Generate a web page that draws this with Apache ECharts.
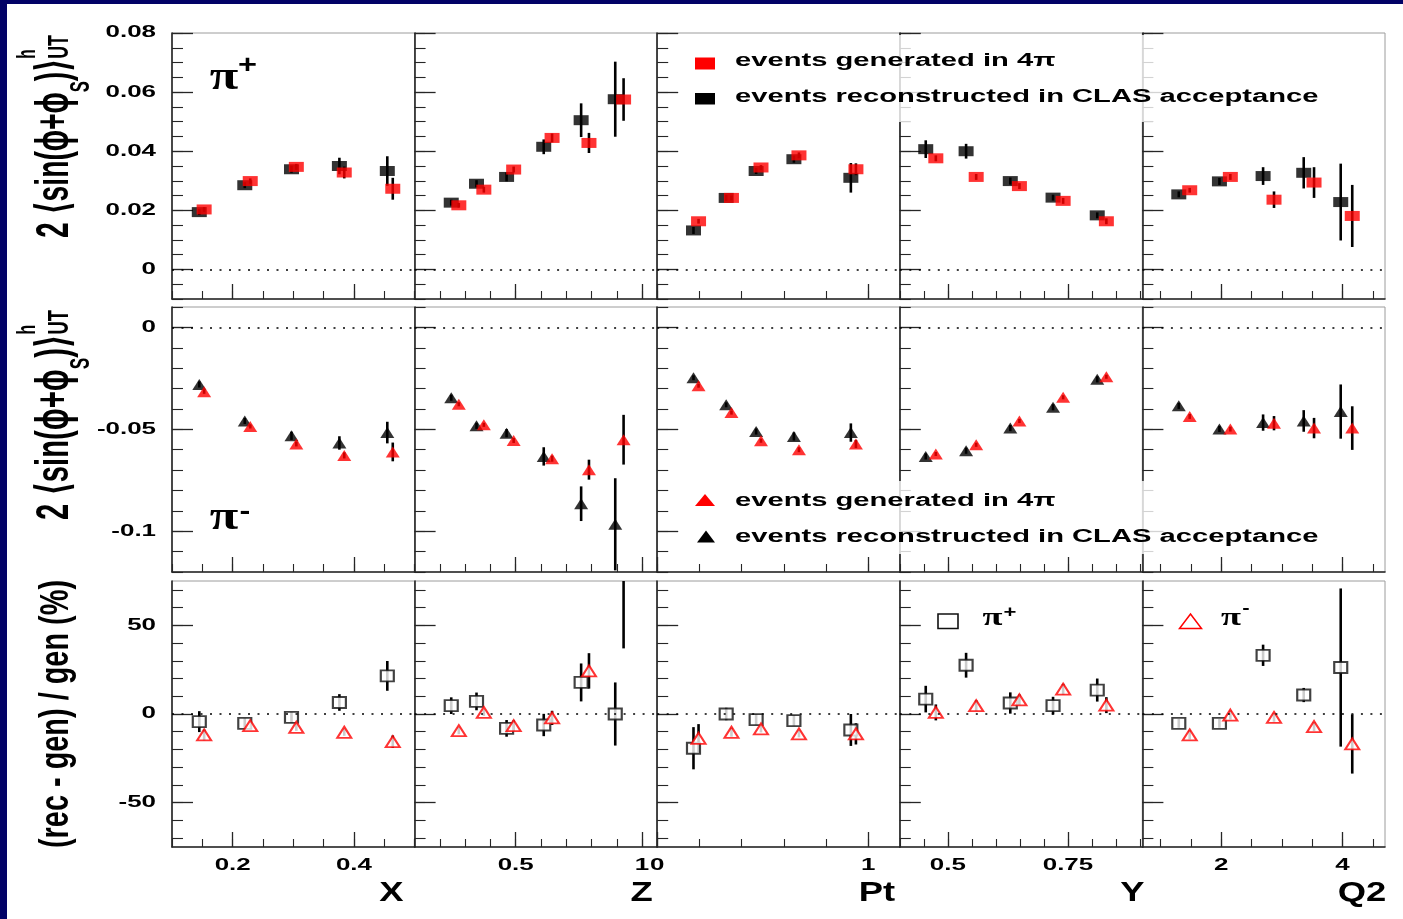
<!DOCTYPE html>
<html>
<head>
<meta charset="utf-8">
<title>Asymmetry: events generated in 4π vs reconstructed in CLAS acceptance</title>
<script src="https://cdn.jsdelivr.net/npm/echarts@6.0.0/dist/echarts.min.js"></script>
<style>
html,body{margin:0;padding:0;background:#fff;}
#chart{width:1403px;height:919px;}
</style>
</head>
<body>
<div id="chart"></div>
<script>
// ================= DATA =================
const panelVars = ['X', 'Z', 'Pt', 'Y', 'Q2'];
const xTickLabels = [['0.2', '0.4'], ['0.5', '1'], ['0', '1'], ['0.5', '0.75'], ['2', '4']];
const yTickLabels = [['0', '0.02', '0.04', '0.06', '0.08'], ['-0.1', '-0.05', '0'], ['-50', '0', '50']];

// bin positions (reconstructed = black, generated = red, drawn slightly shifted)
const xRec = [
  [0.145, 0.220, 0.297, 0.376, 0.455],
  [0.245, 0.345, 0.464, 0.611, 0.759, 0.894],
  [0.172, 0.327, 0.469, 0.648, 0.918],
  [0.454, 0.538, 0.630, 0.719, 0.811],
  [1.30, 1.97, 2.69, 3.36, 3.97]
];
const xGen = [
  [0.153, 0.229, 0.305, 0.384, 0.464],
  [0.275, 0.374, 0.492, 0.644, 0.790, 0.927],
  [0.196, 0.352, 0.492, 0.672, 0.942],
  [0.475, 0.559, 0.649, 0.740, 0.830],
  [1.48, 2.15, 2.87, 3.53, 4.16]
];

// pi+ : 2<sin(phi+phiS)>
const piPlusRec = [
  [0.0194, 0.0285, 0.0339, 0.0350, 0.0333],
  [0.0226, 0.0290, 0.0313, 0.0415, 0.0505, 0.0576],
  [0.0132, 0.0242, 0.0333, 0.0373, 0.0310],
  [0.0407, 0.0400, 0.0299, 0.0243, 0.0183],
  [0.0254, 0.0298, 0.0316, 0.0327, 0.0228]
];
const piPlusRecErr = [
  [0.0010, 0.0010, 0.0012, 0.0028, 0.0050],
  [0.0010, 0.0012, 0.0015, 0.0025, 0.0057, 0.0127],
  [0.0012, 0.0010, 0.0010, 0.0012, 0.0050],
  [0.0030, 0.0025, 0.0012, 0.0010, 0.0010],
  [0.0010, 0.0012, 0.0030, 0.0053, 0.0130]
];
const piPlusGen = [
  [0.0203, 0.0299, 0.0347, 0.0328, 0.0273],
  [0.0217, 0.0270, 0.0338, 0.0445, 0.0428, 0.0575],
  [0.0163, 0.0242, 0.0345, 0.0386, 0.0339],
  [0.0376, 0.0313, 0.0282, 0.0232, 0.0163],
  [0.0268, 0.0313, 0.0236, 0.0294, 0.0181]
];
const piPlusGenErr = [
  [0.0008, 0.0009, 0.0010, 0.0020, 0.0037],
  [0.0008, 0.0010, 0.0010, 0.0015, 0.0034, 0.0072],
  [0.0008, 0.0008, 0.0008, 0.0010, 0.0020],
  [0.0010, 0.0010, 0.0010, 0.0010, 0.0010],
  [0.0008, 0.0010, 0.0028, 0.0052, 0.0105]
];

// pi- : 2<sin(phi+phiS)>
const piMinusRec = [
  [-0.0280, -0.0459, -0.0532, -0.0567, -0.0516],
  [-0.0345, -0.0483, -0.0519, -0.0633, -0.0865, -0.0966],
  [-0.0247, -0.0380, -0.0511, -0.0535, -0.0516],
  [-0.0633, -0.0605, -0.0494, -0.0392, -0.0255],
  [-0.0385, -0.0498, -0.0467, -0.0459, -0.0413]
];
const piMinusRecErr = [
  [0.0015, 0.0015, 0.0020, 0.0033, 0.0053],
  [0.0015, 0.0015, 0.0020, 0.0045, 0.0085, 0.0226],
  [0.0012, 0.0012, 0.0015, 0.0020, 0.0045],
  [0.0015, 0.0015, 0.0015, 0.0015, 0.0015],
  [0.0015, 0.0015, 0.0040, 0.0053, 0.0133]
];
const piMinusGen = [
  [-0.0316, -0.0486, -0.0572, -0.0628, -0.0611],
  [-0.0377, -0.0478, -0.0555, -0.0644, -0.0698, -0.0551],
  [-0.0286, -0.0418, -0.0556, -0.0600, -0.0572],
  [-0.0621, -0.0576, -0.0459, -0.0343, -0.0242],
  [-0.0437, -0.0499, -0.0470, -0.0494, -0.0494]
];
const piMinusGenErr = [
  [0.0010, 0.0010, 0.0012, 0.0015, 0.0046],
  [0.0010, 0.0010, 0.0012, 0.0015, 0.0049, 0.0122],
  [0.0010, 0.0010, 0.0010, 0.0012, 0.0020],
  [0.0010, 0.0010, 0.0010, 0.0010, 0.0010],
  [0.0012, 0.0012, 0.0035, 0.0050, 0.0107]
];

// (rec - gen) / gen  in %
const diffPiPlus = [
  [-4.3, -5.3, -1.9, 6.5, 21.5],
  [4.7, 7.1, -8.1, -6.2, 17.8, 0.0],
  [-19.3, 0.0, -3.2, -3.7, -9.0],
  [8.4, 27.5, 6.2, 4.7, 13.5],
  [-5.3, -5.3, 33.1, 10.7, 26.2]
];
const diffPiPlusErr = [
  [5.9, 3.0, 3.0, 4.7, 8.4],
  [4.7, 5.0, 4.7, 6.3, 10.7, 17.8],
  [11.9, 3.5, 3.0, 3.0, 9.0],
  [7.5, 7.0, 6.0, 5.0, 6.5],
  [2.5, 2.5, 6.0, 4.0, 44.6]
];
const diffPiMinus = [
  [-11.8, -6.6, -7.5, -10.3, -15.6],
  [-9.4, 0.9, -6.6, -2.2, 24.3, 78.0],
  [-13.7, -10.3, -8.4, -11.2, -11.2],
  [0.9, 4.7, 8.0, 14.0, 5.0],
  [-11.8, -0.6, -1.9, -7.1, -16.9]
];
const diffPiMinusErr = [
  [3.0, 2.0, 2.0, 2.0, 3.5],
  [2.0, 2.0, 3.0, 4.0, 10.0, 41.0],
  [8.0, 2.5, 2.0, 2.0, 6.0],
  [4.5, 3.0, 3.0, 3.0, 4.5],
  [2.5, 2.5, 2.5, 2.5, 16.7]
];

// ================= LAYOUT =================
const SANS = '"Liberation Sans", "DejaVu Sans", Arial, sans-serif';
const SERIF = '"Liberation Serif", "DejaVu Serif", serif';
const SX = 1.62;               // horizontal stretch of the original figure's text
const COL0 = 172, COLW = 242.6;
const rowTop = [33, 307, 581], rowH = [266, 265, 266];
const xRange = [[0.1, 0.5, 0.05], [0.1, 1.06, 0.1], [0, 1.15, 0.2], [0.4, 0.905, 0.05], [0.7, 4.7, 0.5]];
const yRange = [[-0.01, 0.08, 0.005], [-0.12, 0.01, 0.01], [-75, 75, 10]];
const AX = '#262626';

function steps(a, b, s) {
  const out = [];
  const n0 = Math.ceil(a / s - 1e-9), n1 = Math.floor(b / s + 1e-9);
  for (let n = n0; n <= n1; n++) out.push(+(n * s).toFixed(6));
  return out;
}

const grids = [], xAxes = [], yAxes = [], series = [];

function axisPair(list, dim, g, min, max, majors, minors, majLen, minLen) {
  const pos = dim === 'x' ? 'bottom' : 'left';
  list.push({
    type: 'value', gridIndex: g, position: pos, min: min, max: max,
    axisLine: { show: true, onZero: false, lineStyle: { color: AX, width: 1.6 } },
    axisTick: { show: true, inside: true, length: majLen, customValues: majors, lineStyle: { color: AX, width: 1.3 } },
    axisLabel: { show: false }, splitLine: { show: false }, minorTick: { show: false }
  });
  list.push({
    type: 'value', gridIndex: g, position: pos, min: min, max: max,
    axisLine: { show: false, onZero: false },
    axisTick: { show: true, inside: true, length: minLen, customValues: minors, lineStyle: { color: AX, width: 1.1 } },
    axisLabel: { show: false }, splitLine: { show: false }, minorTick: { show: false }
  });
}

function errSeries(g, name, xs, ys, es) {
  return {
    type: 'custom', name: name + ' error', xAxisIndex: 2 * g, yAxisIndex: 2 * g,
    clip: true, silent: true, z: 2,
    data: xs.map((x, i) => [x, ys[i], es[i]]),
    renderItem: function (params, api) {
      const x = api.value(0), y = api.value(1), e = api.value(2);
      const p1 = api.coord([x, y - e]), p2 = api.coord([x, y + e]);
      return { type: 'line', shape: { x1: p1[0], y1: p1[1], x2: p2[0], y2: p2[1] },
               style: { stroke: '#000', lineWidth: 2.6 } };
    }
  };
}

function ptSeries(g, name, xs, ys, sym, z, zeroLine) {
  const s = {
    type: 'scatter', name: name, xAxisIndex: 2 * g, yAxisIndex: 2 * g,
    data: xs.map((x, i) => [x, ys[i]]),
    symbol: sym.symbol, symbolSize: sym.size, itemStyle: sym.style,
    clip: true, silent: true, z: z
  };
  if (zeroLine) {
    s.markLine = {
      silent: true, symbol: ['none', 'none'], animation: false,
      label: { show: false },
      lineStyle: { color: '#000', width: 1.5, type: [2, 7.5] },
      emphasis: { disabled: true },
      data: [{ yAxis: 0 }]
    };
  }
  return s;
}

const rowDefs = [
  { rec: piPlusRec, recErr: piPlusRecErr, gen: piPlusGen, genErr: piPlusGenErr,
    recName: 'π+ events reconstructed in CLAS acceptance', genName: 'π+ events generated in 4π',
    recSym: { symbol: 'rect', size: [15, 10], style: { color: '#000' } },
    genSym: { symbol: 'rect', size: [15, 10], style: { color: '#ff0000' } } },
  { rec: piMinusRec, recErr: piMinusRecErr, gen: piMinusGen, genErr: piMinusGenErr,
    recName: 'π- events reconstructed in CLAS acceptance', genName: 'π- events generated in 4π',
    recSym: { symbol: 'triangle', size: [14, 11], style: { color: '#000' } },
    genSym: { symbol: 'triangle', size: [14, 11], style: { color: '#ff0000' } } },
  { rec: diffPiPlus, recErr: diffPiPlusErr, gen: diffPiMinus, genErr: diffPiMinusErr,
    recName: 'π+ (rec - gen) / gen', genName: 'π- (rec - gen) / gen',
    recSym: { symbol: 'rect', size: [13, 11], style: { color: '#fff', borderColor: '#111', borderWidth: 2 } },
    genSym: { symbol: 'triangle', size: [14, 11], style: { color: '#fff', borderColor: '#ff0000', borderWidth: 2 } } }
];

for (let r = 0; r < 3; r++) {
  for (let c = 0; c < 5; c++) {
    const g = r * 5 + c;
    grids.push({ left: COL0 + c * COLW, top: rowTop[r], width: COLW, height: rowH[r],
                 show: true, borderColor: '#9c9c9c', borderWidth: 1, containLabel: false });
    const xr = xRange[c], yr = yRange[r];
    const xMaj = xTickLabels[c].map(Number), yMaj = yTickLabels[r].map(Number);
    axisPair(xAxes, 'x', g, xr[0], xr[1], xMaj, steps(xr[0], xr[1], xr[2]), 15, 8);
    axisPair(yAxes, 'y', g, yr[0], yr[1], yMaj, steps(yr[0], yr[1], yr[2]), 21, 11);
    const d = rowDefs[r];
    const tag = ' vs ' + panelVars[c];
    series.push(errSeries(g, d.recName + tag, xRec[c], d.rec[c], d.recErr[c]));
    series.push(errSeries(g, d.genName + tag, xGen[c], d.gen[c], d.genErr[c]));
    series.push(ptSeries(g, d.recName + tag, xRec[c], d.rec[c], d.recSym, 3, true));
    series.push(ptSeries(g, d.genName + tag, xGen[c], d.gen[c], d.genSym, 4, false));

    // tick labels (stretched like the original figure)
    if (r === 2) {
      const labs = xTickLabels[c];
      series.push({
        type: 'custom', name: panelVars[c] + ' tick labels', xAxisIndex: 2 * g, yAxisIndex: 2 * g,
        clip: false, silent: true, z: 5,
        data: labs.map(l => [Number(l), yr[0]]),
        renderItem: function (params, api) {
          const p = api.coord([api.value(0), api.value(1)]);
          return { type: 'text', x: p[0], y: p[1] + 19, scaleX: SX,
            style: { text: labs[params.dataIndex], font: 'bold 16px ' + SANS, fill: '#000',
                     align: 'center', verticalAlign: 'middle', textAlign: 'center', textVerticalAlign: 'middle' } };
        }
      });
    }
    if (c === 0) {
      const labs = yTickLabels[r];
      series.push({
        type: 'custom', name: 'row ' + r + ' tick labels', xAxisIndex: 2 * g, yAxisIndex: 2 * g,
        clip: false, silent: true, z: 5,
        data: labs.map(l => [xr[0], Number(l)]),
        renderItem: function (params, api) {
          const p = api.coord([api.value(0), api.value(1)]);
          return { type: 'text', x: p[0] - 16, y: p[1], scaleX: SX,
            style: { text: labs[params.dataIndex], font: 'bold 16px ' + SANS, fill: '#000',
                     align: 'right', verticalAlign: 'middle', textAlign: 'right', textVerticalAlign: 'middle' } };
        }
      });
    }
  }
}

// ---------- texts: titles, legends ----------
const mctx = document.createElement('canvas').getContext('2d');
function tw(text, font) { mctx.font = font; return mctx.measureText(text).width; }

function vTitle(pieces, baseX, startY, targetLen) {
  let pos = 0; const ch = [];
  pieces.forEach(p => {
    const font = (p.w || 'bold') + ' ' + p.s + 'px ' + (p.f || SANS);
    ch.push({ type: 'text', x: pos, y: (p.bl || 0) + 0.17 * p.s,
      style: { text: p.t, font: font, fill: '#000', align: 'left', verticalAlign: 'bottom',
               textAlign: 'left', textVerticalAlign: 'bottom' } });
    if (!p.still) pos += tw(p.t, font);
  });
  return { type: 'group', x: baseX, y: startY, rotation: Math.PI / 2, scaleX: targetLen / pos, scaleY: 1,
           silent: true, children: ch };
}
const asymPieces = [
  { t: '2 \u27E8sin(\u03D5+\u03D5', s: 46 },
  { t: 'S', s: 27, bl: 20 },
  { t: ')\u27E9', s: 46 },
  { t: 'h', s: 25, bl: -34, still: true },
  { t: 'UT', s: 29 }
];

function hText(text, x, y, font, sx, align, extra) {
  return Object.assign({ type: 'text', x: x, y: y, scaleX: sx, z: 101, silent: true,
    style: { text: text, font: font, fill: '#000', align: align || 'left', verticalAlign: 'middle',
             textAlign: align || 'left', textVerticalAlign: 'middle' } }, extra || {});
}

const graphics = [
  // dark-blue slide border
  { type: 'rect', shape: { x: 0, y: 0, width: 7, height: 919 }, style: { fill: '#020266' }, silent: true },
  { type: 'rect', shape: { x: 0, y: 0, width: 1403, height: 4 }, style: { fill: '#020266' }, silent: true },
  // y-axis titles
  vTitle(asymPieces, 70, 238, 203),
  vTitle(asymPieces, 70, 520, 210),
  vTitle([{ t: '(rec - gen) / gen (%)', s: 40 }], 70, 848, 268),
  // legend backgrounds (partly hide frame lines as in the original)
  { type: 'rect', z: 100, silent: true, shape: { x: 680, y: 35, width: 665, height: 87 }, style: { fill: 'rgba(255,255,255,0.8)' } },
  { type: 'rect', z: 100, silent: true, shape: { x: 680, y: 481, width: 665, height: 73 }, style: { fill: 'rgba(255,255,255,0.8)' } },
  // top legend
  { type: 'rect', z: 101, silent: true, shape: { x: 695, y: 57.5, width: 20, height: 12 }, style: { fill: '#ff0000' } },
  { type: 'rect', z: 101, silent: true, shape: { x: 695, y: 93, width: 20, height: 11.5 }, style: { fill: '#000' } },
  hText('events generated in 4\u03C0', 735, 61.3, 'bold 18px ' + SANS, SX),
  hText('events reconstructed in CLAS acceptance', 735, 96.7, 'bold 18px ' + SANS, SX),
  // middle legend
  { type: 'polygon', z: 101, silent: true, shape: { points: [[705, 494], [715, 506], [695, 506]] }, style: { fill: '#ff0000' } },
  { type: 'polygon', z: 101, silent: true, shape: { points: [[706, 530.5], [715, 542.5], [697, 542.5]] }, style: { fill: '#000' } },
  hText('events generated in 4\u03C0', 735, 500.7, 'bold 18px ' + SANS, SX),
  hText('events reconstructed in CLAS acceptance', 735, 536.7, 'bold 18px ' + SANS, SX),
  // bottom legend
  { type: 'rect', z: 101, silent: true, shape: { x: 938, y: 614, width: 20, height: 14.5 }, style: { fill: '#fff', stroke: '#111', lineWidth: 1.6 } },
  hText('\u03C0', 992.5, 618, 'bold 26px ' + SERIF, 1.4, 'center'),
  hText('+', 1010, 612, 'bold 17px ' + SANS, 1.3, 'center'),
  { type: 'polygon', z: 101, silent: true, shape: { points: [[1190.5, 614], [1201.5, 628.5], [1179.5, 628.5]] }, style: { fill: '#fff', stroke: '#ff0000', lineWidth: 1.5 } },
  hText('\u03C0', 1231, 618, 'bold 26px ' + SERIF, 1.4, 'center'),
  hText('-', 1246, 608, 'bold 17px ' + SANS, 1.3, 'center'),
  // panel labels
  hText('\u03C0', 224, 78.5, 'bold 40px ' + SERIF, 1.3, 'center'),
  hText('+', 247.5, 66, 'bold 25px ' + SANS, 1.3, 'center'),
  hText('\u03C0', 224, 518.5, 'bold 40px ' + SERIF, 1.3, 'center'),
  hText('-', 245, 512, 'bold 25px ' + SANS, 1.3, 'center'),
  // axis titles
  hText('X', 391.5, 893, 'bold 28px ' + SANS, 1.3, 'center'),
  hText('Z', 641.5, 893, 'bold 28px ' + SANS, 1.3, 'center'),
  hText('Pt', 877, 893, 'bold 28px ' + SANS, 1.3, 'center'),
  hText('Y', 1132.5, 893, 'bold 28px ' + SANS, 1.3, 'center'),
  hText('Q2', 1362, 893, 'bold 28px ' + SANS, 1.3, 'center')
];

const chart = echarts.init(document.getElementById('chart'), null, { renderer: 'canvas' });
chart.setOption({
  animation: false,
  backgroundColor: '#fff',
  grid: grids,
  xAxis: xAxes,
  yAxis: yAxes,
  series: series,
  graphic: { elements: graphics }
});
</script>
</body>
</html>
